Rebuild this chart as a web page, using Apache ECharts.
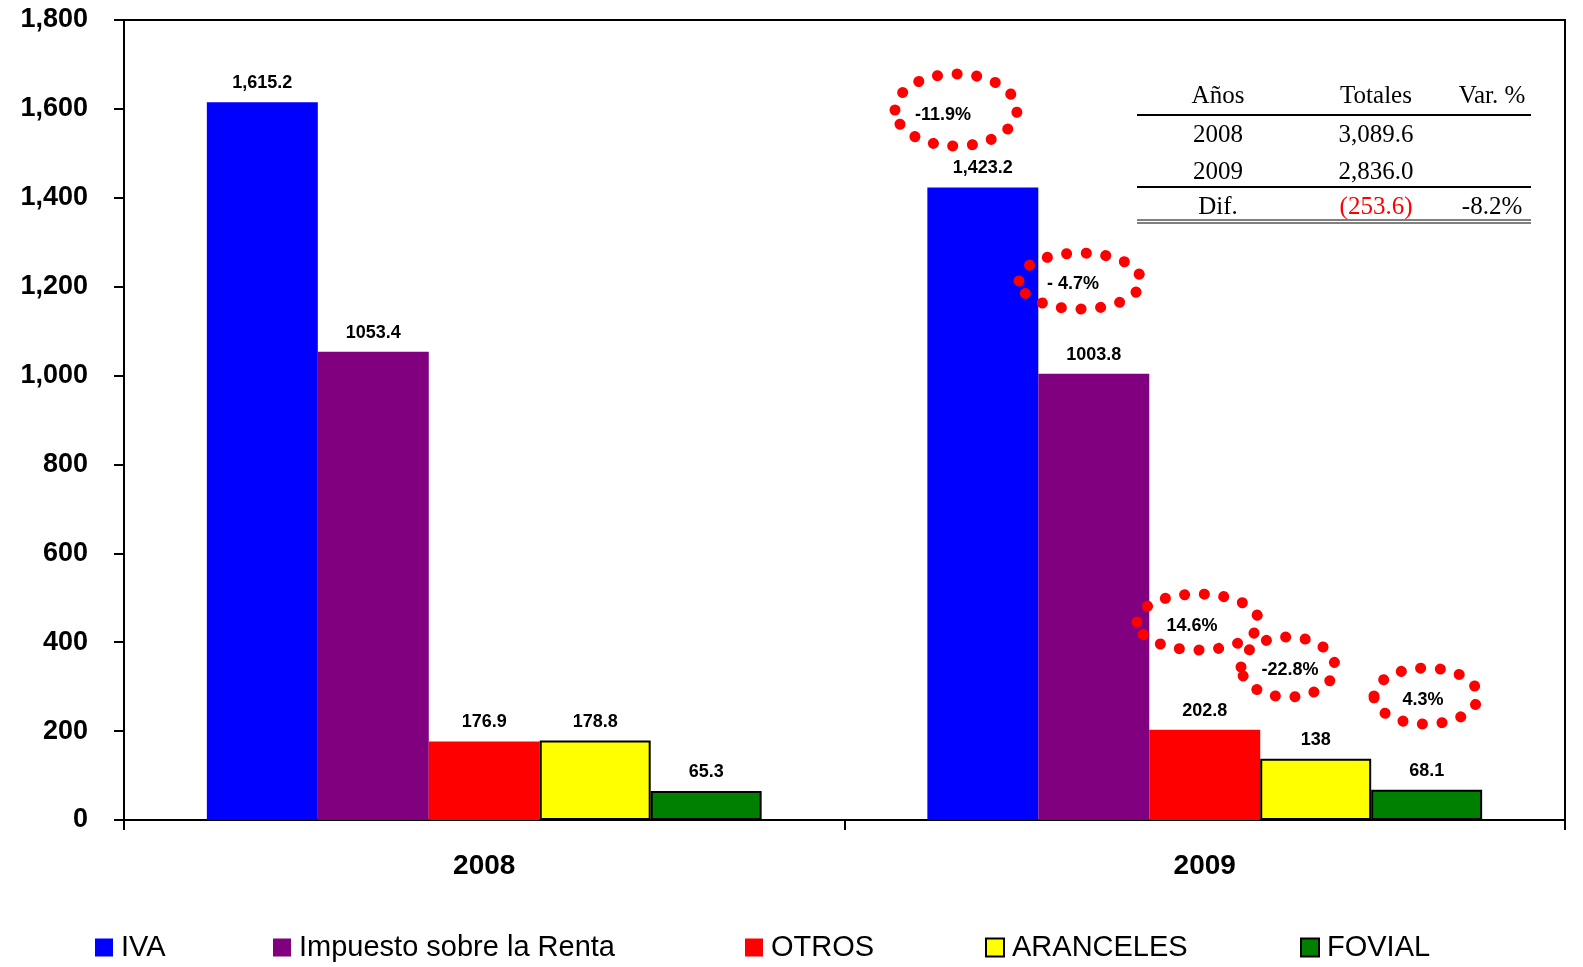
<!DOCTYPE html>
<html>
<head>
<meta charset="utf-8">
<script src="https://cdn.jsdelivr.net/npm/echarts@6/dist/echarts.min.js"></script>
<style>html,body{margin:0;padding:0;background:#fff;}#c{width:1583px;height:967px;}</style>
</head>
<body>
<div id="c"></div>
<script>
// ---- data ----
const years = ['2008', '2009'];
const seriesNames = ['IVA', 'Impuesto sobre la Renta', 'OTROS', 'ARANCELES', 'FOVIAL'];
const iva = [1615.2, 1423.2];
const renta = [1053.4, 1003.8];
const otros = [176.9, 202.8];
const aranceles = [178.8, 138];
const fovial = [65.3, 68.1];
const yTicks = [0, 200, 400, 600, 800, 1000, 1200, 1400, 1600, 1800];
const pctChanges = ['-11.9%', '- 4.7%', '14.6%', '-22.8%', '4.3%'];
const tableHeader = ['Años', 'Totales', 'Var. %'];
const tableYears = ['2008', '2009'];
const tableTotals = ['3,089.6', '2,836.0'];
const tableDif = ['Dif.', '(253.6)', '-8.2%'];

const colors = ['#0000FF', '#800080', '#FF0000', '#FFFF00', '#008000'];
const values = [iva, renta, otros, aranceles, fovial];
const legendLeft = [90, 268, 740, 980, 1295];

const chart = echarts.init(document.getElementById('c'));

const fmtComma = v => v.toLocaleString('en-US', {minimumFractionDigits: 1, maximumFractionDigits: 1});

const series = seriesNames.map((n, i) => ({
  name: n,
  type: 'bar',
  data: values[i],
  barGap: '0%',
  barCategoryGap: '23%',
  itemStyle: (i >= 3) ? {color: colors[i], borderColor: '#000', borderWidth: 2} : {color: colors[i]},
  label: {
    show: true,
    position: 'top',
    distance: 10,
    color: '#000',
    fontFamily: 'Liberation Sans, Arial, sans-serif',
    fontWeight: 'bold',
    fontSize: 18,
    formatter: p => i === 0 ? fmtComma(p.value) : String(p.value)
  }
}));

const legends = seriesNames.map((n, i) => ({
  left: legendLeft[i], top: 928,
  itemWidth: 18, itemHeight: 18,
  icon: 'rect',
  textStyle: {fontFamily: 'Liberation Sans, Arial, sans-serif', fontSize: 29, color: '#000', padding: [0, 0, 0, 3]},
  data: [n]
}));

// table + annotations
const serif = 'Liberation Serif, Times New Roman, serif';
const graphic = [];
const colX = [1218, 1376, 1492];
const tf = '25px ' + serif;
tableHeader.forEach((t, k) => graphic.push({type: 'text', x: colX[k], y: 96, style: {text: t, fill: '#000', font: tf, textAlign: 'center', textVerticalAlign: 'middle'}}));
tableYears.forEach((t, r) => {
  const y = 135 + r * 37;
  graphic.push({type: 'text', x: colX[0], y: y, style: {text: t, fill: '#000', font: tf, textAlign: 'center', textVerticalAlign: 'middle'}});
  graphic.push({type: 'text', x: colX[1], y: y, style: {text: tableTotals[r], fill: '#000', font: tf, textAlign: 'center', textVerticalAlign: 'middle'}});
});
tableDif.forEach((t, k) => graphic.push({type: 'text', x: colX[k], y: 207, style: {text: t, fill: k === 1 ? '#FF0000' : '#000', font: tf, textAlign: 'center', textVerticalAlign: 'middle'}}));
[[115, 2], [187, 2], [220, 1], [223, 1]].forEach(([y, w]) => graphic.push({type: 'line', shape: {x1: 1137, y1: y, x2: 1531, y2: y}, style: {stroke: '#000', lineWidth: w}}));

const ellipses = [
  {cx: 956, cy: 110, rx: 61, ry: 36, tx: 943, ty: 115},
  {cx: 1080, cy: 281, rx: 61, ry: 28, tx: 1073, ty: 284},
  {cx: 1198, cy: 622, rx: 61, ry: 28, tx: 1192, ty: 626},
  {cx: 1288, cy: 667, rx: 47, ry: 30, tx: 1290, ty: 670},
  {cx: 1426, cy: 696, rx: 52, ry: 28, tx: 1423, ty: 700}
];
ellipses.forEach((e, k) => {
  graphic.push({type: 'ellipse', z: 100, shape: {cx: e.cx, cy: e.cy, rx: e.rx, ry: e.ry},
    style: {fill: 'none', stroke: '#FF0000', lineWidth: 11, lineDash: [0.1, 19.5], lineCap: 'round'}});
  graphic.push({type: 'text', z: 101, x: e.tx, y: e.ty, style: {text: pctChanges[k], fill: '#000', font: 'bold 18px Liberation Sans, Arial, sans-serif', textAlign: 'center', textVerticalAlign: 'middle'}});
});

chart.setOption({
  animation: false,
  backgroundColor: '#fff',
  grid: {left: 124, right: 18, top: 20, bottom: 147, show: true, borderColor: '#000', borderWidth: 2},
  legend: legends,
  xAxis: {
    type: 'category',
    data: years,
    axisLine: {lineStyle: {color: '#000', width: 2}},
    axisTick: {show: true, length: 10, lineStyle: {color: '#000', width: 2}},
    axisLabel: {color: '#000', fontFamily: 'Liberation Sans, Arial, sans-serif', fontWeight: 'bold', fontSize: 28, margin: 32}
  },
  yAxis: {
    type: 'value',
    min: yTicks[0], max: yTicks[yTicks.length - 1], interval: 200,
    axisLine: {show: true, lineStyle: {color: '#000', width: 2}},
    axisTick: {show: true, length: 10, lineStyle: {color: '#000', width: 2}},
    splitLine: {show: false},
    axisLabel: {color: '#000', fontFamily: 'Liberation Sans, Arial, sans-serif', fontWeight: 'bold', fontSize: 27, margin: 36,
      formatter: v => v.toLocaleString('en-US')}
  },
  series: series,
  graphic: graphic
});
</script>
</body>
</html>
